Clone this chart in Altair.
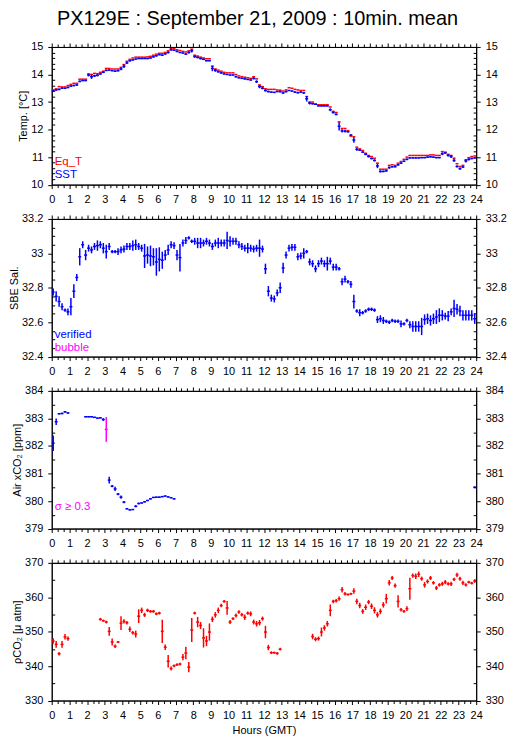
import altair as alt
import pandas as pd

FONT = "Liberation Sans"
RED = "#ff0000"
BLUE = "#0000ff"
MAG = "#ff00ff"

# ---------------- data (10-min means, slot index i -> i/6 .. (i+1)/6 hours) ----------------
SST = [
    13.40, 13.44, 13.46, 13.50, 13.50, 13.53,
    13.58, 13.60, 13.62, 13.75, 13.78, 13.78,
    13.98, 13.92, 13.95, 13.97, 14.02, 14.08,
    14.15, 14.16, 14.14, 14.12, 14.14, 14.20,
    14.30, 14.42, 14.50, 14.53, 14.56, 14.58,
    14.58, 14.58, 14.58, 14.60, 14.64, 14.68,
    14.72, 14.70, 14.75, 14.80, 14.90, 14.88,
    14.84, 14.80, 14.78, 14.74, 14.80, 14.86,
    14.65, 14.62, 14.58, 14.55, 14.50, 14.50,
    14.22, 14.15, 14.10, 14.06, 14.02, 14.00,
    13.98, 13.98, 13.92, 13.88, 13.86, 13.84,
    13.82, 13.80, 13.86, 13.74, 13.56, 13.50,
    13.42, 13.38, 13.36, 13.35, 13.38, 13.38,
    13.33, 13.38, 13.42, 13.40, 13.36, 13.34,
    13.36, 13.33, 13.12, 12.96, 12.94, 12.92,
    12.86, 12.86, 12.86, 12.86, 12.72, 12.62,
    12.55, 12.12, 11.95, 11.94, 11.92, 11.80,
    11.62, 11.28, 11.25, 11.18, 11.10, 11.02,
    10.95, 10.88, 10.68, 10.48, 10.48, 10.50,
    10.62, 10.65, 10.65, 10.72, 10.78, 10.85,
    10.92, 10.97, 10.97, 10.97, 10.97, 10.98,
    10.98, 11.00, 11.01, 11.00, 10.98, 10.98,
    11.12, 11.15, 11.06, 11.02, 10.88, 10.66,
    10.58, 10.64, 10.86, 10.92, 10.95, 10.97,
]
SST_ERR = [
    .04, .03, .03, .03, .02, .03,
    .03, .03, .03, .03, .02, .02,
    .05, .08, .04, .04, .03, .03,
    .03, .02, .02, .03, .03, .05,
    .06, .04, .03, .02, .02, .02,
    .02, .02, .02, .02, .02, .03,
    .02, .03, .03, .04, .04, .03,
    .03, .02, .02, .03, .04, .06,
    .04, .03, .03, .02, .02, .02,
    .10, .05, .03, .03, .02, .02,
    .02, .02, .03, .02, .02, .02,
    .02, .02, .04, .05, .06, .04,
    .04, .03, .02, .02, .02, .03,
    .03, .03, .02, .02, .03, .03,
    .02, .03, .10, .05, .03, .02,
    .02, .02, .02, .02, .05, .04,
    .03, .15, .06, .05, .03, .03,
    .10, .05, .03, .03, .03, .03,
    .03, .04, .08, .04, .03, .03,
    .04, .03, .02, .03, .03, .03,
    .03, .02, .02, .02, .02, .02,
    .02, .02, .02, .02, .02, .02,
    .05, .03, .04, .05, .06, .04,
    .04, .04, .06, .04, .03, .03,
]
EQT = [
    13.44, 13.48, 13.56, 13.55, 13.55, 13.60,
    13.64, 13.68, 13.68, 13.83, 13.83, 13.83,
    14.02, 14.00, 14.04, 14.03, 14.08, 14.12,
    14.22, 14.22, 14.20, 14.20, 14.20, 14.26,
    14.36, 14.48, 14.55, 14.60, 14.63, 14.63,
    14.63, 14.63, 14.64, 14.66, 14.70, 14.74,
    14.77, 14.77, 14.80, 14.86, 14.94, 14.94,
    14.90, 14.87, 14.84, 14.82, 14.86, 14.92,
    14.70, 14.67, 14.63, 14.60, 14.57, 14.57,
    14.30, 14.20, 14.16, 14.12, 14.08, 14.06,
    14.06, 14.06, 14.00, 13.95, 13.92, 13.90,
    13.88, 13.86, 13.92, 13.84, 13.62, 13.56,
    13.48, 13.46, 13.46, 13.46, 13.44, 13.43,
    13.40, 13.44, 13.52, 13.50, 13.46, 13.44,
    13.42, 13.42, 13.20, 13.00, 13.00, 12.92,
    12.90, 12.90, 12.90, 12.90, 12.82, 12.66,
    12.62, 12.28, 12.04, 12.04, 11.96, 11.76,
    11.74, 11.36, 11.30, 11.24, 11.14, 11.06,
    11.02, 10.96, 10.78, 10.56, 10.56, 10.56,
    10.70, 10.72, 10.70, 10.78, 10.84, 10.92,
    11.00, 11.06, 11.06, 11.06, 11.06, 11.06,
    11.06, 11.06, 11.08, 11.08, 11.06, 11.06,
    11.20, 11.18, 11.10, 11.06, 10.96, 10.76,
    10.66, 10.70, 10.90, 10.98, 11.02, 11.04,
]
SAL = [
    32.775, 32.75, 32.72, 32.69, 32.67, 32.66,
    32.69, 32.78, 32.86, 32.98, 33.05, 32.99,
    33.03, 33.02, 33.04, 33.045, 33.05, 33.03,
    33.01, 33.04, 33.01, 33.01, 33.01, 33.02,
    33.025, 33.04, 33.04, 33.045, 33.05, 33.04,
    33.03, 32.985, 32.99, 32.985, 32.98, 32.95,
    32.965, 32.96, 32.99, 33.02, 33.05, 33.045,
    32.99, 32.975, 33.06, 33.075, 33.09, 33.07,
    33.07, 33.06, 33.06, 33.06, 33.07, 33.06,
    33.04, 33.06, 33.06, 33.06, 33.06, 33.075,
    33.07, 33.07, 33.07, 33.05, 33.04, 33.03,
    33.03, 33.03, 33.025, 33.03, 33.03, 33.025,
    32.91, 32.78, 32.74, 32.735, 32.77, 32.80,
    32.915, 32.99, 33.03, 33.035, 33.035, 32.98,
    32.985, 33.0, 33.01, 32.95, 32.94, 32.91,
    32.94, 32.955, 32.94, 32.94, 32.955, 32.92,
    32.92, 32.91, 32.835, 32.85, 32.835, 32.82,
    32.72, 32.665, 32.655, 32.655, 32.665, 32.675,
    32.675, 32.67, 32.615, 32.62, 32.61, 32.605,
    32.60, 32.61, 32.605, 32.605, 32.59, 32.59,
    32.61, 32.585, 32.575, 32.575, 32.575, 32.575,
    32.615, 32.62, 32.61, 32.62, 32.63, 32.64,
    32.64, 32.635, 32.635, 32.66, 32.68, 32.675,
    32.665, 32.64, 32.64, 32.64, 32.64, 32.62,
]
SAL_ERR = [
    .02, .03, .03, .02, .01, .02,
    .05, .04, .02, .05, .02, .03,
    .02, .02, .02, .03, .02, .03,
    .04, .02, .01, .01, .02, .02,
    .02, .02, .02, .03, .03, .02,
    .02, .07, .05, .06, .05, .08,
    .07, .05, .03, .03, .02, .02,
    .03, .08, .02, .02, .01, .01,
    .02, .03, .03, .02, .02, .02,
    .02, .02, .03, .02, .02, .05,
    .03, .02, .02, .02, .02, .02,
    .03, .02, .02, .02, .05, .02,
    .03, .03, .02, .02, .02, .03,
    .03, .02, .02, .02, .02, .02,
    .02, .03, .01, .02, .02, .02,
    .02, .02, .02, .04, .02, .02,
    .02, .01, .02, .02, .01, .02,
    .04, .01, .02, .01, .01, .01,
    .01, .01, .02, .02, .02, .01,
    .01, .01, .01, .01, .02, .01,
    .01, .02, .03, .03, .03, .05,
    .03, .03, .03, .03, .04, .04,
    .03, .02, .03, .02, .05, .03,
    .03, .03, .03, .03, .03, .03,
]

AIR_IDX = [0, 1, 2, 3, 4, 5, 11, 12, 13, 14, 15, 16, 17, 18] + list(range(19, 42)) + [143]
AIR = [
    382.10, 382.88, 383.17, 383.18, 383.24, 383.20,
    383.06, 383.06, 383.06, 383.04, 383.01, 383.02, 382.96,
    382.60,
    380.76, 380.54, 380.44, 380.25, 380.14, 379.96, 379.72, 379.68, 379.69,
    379.81, 379.91, 379.93, 379.97, 380.02, 380.08, 380.13, 380.14, 380.14,
    380.16, 380.18, 380.15, 380.12, 380.08,
    380.50,
]
AIR_ERR = [
    0.28, 0.12, 0.03, 0.03, 0.03, 0.03,
    0.02, 0.02, 0.02, 0.02, 0.02, 0.02, 0.05,
    0.45,
    0.12, 0.04, 0.08, 0.04, 0.06, 0.04, 0.03, 0.02, 0.02,
    0.04, 0.03, 0.02, 0.02, 0.02, 0.02, 0.02, 0.02, 0.02,
    0.02, 0.02, 0.02, 0.02, 0.02,
    0.03,
]
AIR_SIGMA_FLAG = [0] * 13 + [1] + [0] * 23 + [0]

PCO2_IDX = list(range(0, 6)) + list(range(16, 78)) + list(range(88, 144))
PCO2 = [
    347.3, 346.3, 343.6, 346.3, 348.5, 348.0,
    # 16-77
    353.6, 353.2, 352.8, 350.1, 347.0, 345.75, 347.0, 352.5, 353.0, 352.6,
    350.7, 349.7, 349.3, 354.5, 356.2, 354.9, 356.2, 355.9, 355.9, 355.2,
    355.4, 350.1, 345.5, 341.4, 339.3, 340.1, 340.4, 340.6, 342.6, 343.8,
    339.7, 350.5, 355.4, 352.8, 351.8, 348.2, 347.3, 349.9, 353.6, 354.9,
    356.2, 357.6, 358.8, 356.9, 352.8, 353.8, 354.7, 355.7, 354.9, 354.2,
    355.4, 355.2, 352.8, 352.3, 352.6, 353.8, 349.9, 345.4, 343.9, 343.9,
    343.7, 344.9,
    # 88-143
    348.6, 347.8, 348.0, 349.9, 351.1, 352.3, 356.2, 358.8, 359.0, 359.6,
    362.2, 361.0, 360.8, 361.0, 361.8, 358.8, 357.6, 355.9, 357.1, 358.6,
    357.4, 356.2, 354.9, 355.9, 357.8, 359.6, 364.2, 365.6, 363.4, 358.8,
    356.4, 355.9, 356.7, 362.5, 366.3, 366.1, 366.7, 365.4, 363.6, 364.6,
    365.6, 364.2, 362.7, 363.6, 363.9, 364.4, 363.9, 363.9, 365.2, 366.5,
    365.4, 364.2, 363.6, 364.4, 364.1, 364.7,
]
PCO2_ERR = [
    0.8, 1.0, 0.5, 1.0, 0.8, 0.6,
    0.4, 0.3, 0.4, 1.3, 1.0, 0.5, 0.3, 2.0, 0.6, 0.5,
    0.8, 0.5, 1.0, 2.0, 0.8, 0.6, 0.5, 0.4, 0.4, 0.4,
    0.4, 3.4, 0.8, 1.8, 0.6, 0.4, 0.4, 0.4, 0.9, 1.8,
    1.5, 3.5, 0.4, 1.5, 1.0, 2.8, 1.5, 2.5, 0.8, 0.8,
    0.8, 0.5, 0.4, 2.0, 0.6, 0.4, 0.6, 0.5, 0.5, 0.8,
    0.5, 0.7, 0.7, 0.8, 0.8, 0.6, 1.8, 0.8, 0.4, 0.3,
    0.4, 0.4,
    0.8, 0.6, 0.6, 1.3, 0.8, 0.8, 1.7, 0.5, 0.5, 0.6,
    0.8, 0.5, 0.3, 0.3, 0.8, 0.8, 0.8, 0.7, 0.8, 0.6,
    0.8, 0.9, 0.8, 0.8, 0.8, 1.4, 0.8, 0.6, 0.6, 1.8,
    0.5, 0.4, 0.7, 3.2, 0.6, 0.8, 0.8, 0.6, 0.8, 0.6,
    0.6, 0.5, 0.6, 0.5, 0.6, 0.6, 0.5, 0.6, 0.5, 0.6,
    0.6, 0.6, 0.5, 0.4, 0.4, 0.5,
]

TITLE = "PX129E : September 21, 2009 : 10min. mean"
X_TICKS = [round(k / 3, 6) for k in range(73)]

W = 427
H = 138.5


def frame(idx, vals, errs):
    return pd.DataFrame({
        "t0": [i / 6 for i in idx],
        "t1": [(i + 1) / 6 for i in idx],
        "tc": [(i + 0.5) / 6 for i in idx],
        "v": vals,
        "lo": [v - e for v, e in zip(vals, errs)],
        "hi": [v + e for v, e in zip(vals, errs)],
    })


XS = alt.Scale(domain=[0, 24], nice=False, zero=False)
HOUR_TEST = "abs(datum.value-round(datum.value))<0.01"


def xaxis(orient, labels, title=None):
    return alt.Axis(
        orient=orient, values=X_TICKS, labels=labels,
        labelExpr=f"{HOUR_TEST} ? format(round(datum.value),'d') : ''",
        labelOverlap=False, labelFlush=False, labelPadding=5,
        tickSize={"expr": f"{HOUR_TEST} ? 4 : 3"},
        title=title, titlePadding=4, grid=False,
    )


def yaxis(orient, values, k, title=None):
    major = f"abs(datum.value*{k}-round(datum.value*{k}))<0.001"
    return alt.Axis(
        orient=orient, values=values,
        labelExpr=f"{major} ? format(datum.value,'~g') : ''",
        labelOverlap=False, labelFlush=False, labelPadding=5,
        tickSize={"expr": f"{major} ? 4 : -3"},
        title=title, titlePadding=2, grid=False,
    )


def panel(series, ydom, yvals, k, ytitle, notes, xtitle=None):
    ys = alt.Scale(domain=ydom, nice=False, zero=False)
    layers = []
    first = True
    for df, color, bar_width in series:
        h = alt.Chart(df).mark_rule(color=color, strokeWidth=1.5).encode(
            x=alt.X("t0:Q", scale=XS, axis=xaxis("bottom", True, xtitle) if first else None),
            x2="t1:Q",
            y=alt.Y("v:Q", scale=ys, axis=yaxis("left", yvals, k, ytitle) if first else None),
        )
        layers.append(h)
        b = alt.Chart(df).mark_rule(color=color, strokeWidth=bar_width).encode(
            x=alt.X("tc:Q", scale=XS, axis=xaxis("top", False) if first else None),
            y=alt.Y("lo:Q", scale=ys, axis=yaxis("right", yvals, k) if first else None),
            y2="hi:Q",
        )
        layers.append(b)
        first = False
    for txt, color, ypix in notes:
        layers.append(
            alt.Chart().mark_text(align="left", baseline="alphabetic", font=FONT,
                                  fontSize=11.5, color=color).encode(
                x=alt.value(3), y=alt.value(ypix), text=alt.value(txt))
        )
    return alt.layer(*layers).properties(width=W, height=H)


def vals(lo, hi, step):
    n = int(round((hi - lo) / step))
    return [round(lo + step * j, 4) for j in range(n + 1)]


p1 = panel(
    [(frame(range(144), EQT, [0] * 144), RED, 1.5),
     (frame(range(144), SST, SST_ERR), BLUE, 1.5)],
    [10, 15], vals(10, 15, 0.2), 1, "Temp. [°C]",
    [("Eq_T", RED, 118.5), ("SST", BLUE, 132)],
)
p2 = panel(
    [(frame(range(144), SAL, SAL_ERR), BLUE, 1.5)],
    [32.4, 33.2], vals(32.4, 33.2, 0.05), 5, "SBE Sal.",
    [("verified", BLUE, 119.5), ("bubble", MAG, 132.5)],
)
air_all = frame(AIR_IDX, AIR, AIR_ERR)
air_all["flag"] = AIR_SIGMA_FLAG
p3 = panel(
    [(air_all[air_all.flag == 0], BLUE, 1.5),
     (air_all[air_all.flag == 1], MAG, 1.5)],
    [379, 384], vals(379, 384, 0.5), 1, "Air xCO₂ [ppm]",
    [("σ ≥ 0.3", MAG, 120)],
)
p4 = panel(
    [(frame(PCO2_IDX, PCO2, PCO2_ERR), RED, 1.5)],
    [330, 370], vals(330, 370, 5), 0.1, "ρCO₂ [μ atm]",
    [], xtitle="Hours (GMT)",
)

chart = alt.vconcat(p1, p2, p3, p4, spacing=34, bounds="flush").properties(
    title=alt.TitleParams(TITLE, font=FONT, fontSize=20, fontWeight="normal",
                          color="black", anchor="middle", offset=12),
    padding={"left": 0, "top": -2, "right": 0, "bottom": 0},
).configure_axis(
    labelFont=FONT, labelFontSize=11, labelColor="black",
    titleFont=FONT, titleFontSize=11, titleFontWeight="normal", titleColor="black",
    domainColor="black", tickColor="black", domainWidth=1, tickWidth=1,
).configure_view(stroke="black", strokeWidth=1)

chart.save("out.html", embed_options={"renderer": "svg", "actions": False})
